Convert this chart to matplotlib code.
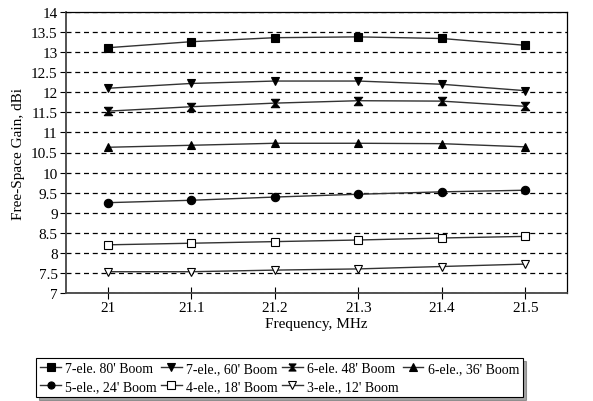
import matplotlib.pyplot as plt
import numpy as np

plt.rcParams['font.family'] = ['Liberation Serif', 'DejaVu Serif']

freq = [21.0, 21.1, 21.2, 21.3, 21.4, 21.5]

gain_7el_80 = [13.11, 13.26, 13.36, 13.38, 13.34, 13.17]
gain_7el_60 = [12.10, 12.22, 12.28, 12.28, 12.20, 12.04]
gain_6el_48 = [11.53, 11.64, 11.73, 11.79, 11.78, 11.65]
gain_6el_36 = [10.63, 10.68, 10.73, 10.73, 10.72, 10.64]
gain_5el_24 = [9.25, 9.31, 9.39, 9.46, 9.52, 9.56]
gain_4el_18 = [8.20, 8.24, 8.28, 8.32, 8.37, 8.41]
gain_3el_12 = [7.53, 7.53, 7.57, 7.60, 7.66, 7.72]

labels = ["7-ele. 80' Boom", "7-ele., 60' Boom", "6-ele. 48' Boom", "6-ele., 36' Boom",
          "5-ele., 24' Boom", "4-ele., 18' Boom", "3-ele., 12' Boom"]
series = [gain_7el_80, gain_7el_60, gain_6el_48, gain_6el_36,
          gain_5el_24, gain_4el_18, gain_3el_12]

# hourglass marker: two triangles tip to tip
hourglass = [(-1, 1), (1, 1), (0.15, 0), (1, -1), (-1, -1), (-0.15, 0), (-1, 1)]
markers = ['s', 'v', hourglass, '^', 'o', 's', 'v']
filled = [True, True, True, True, True, False, False]

fig = plt.figure(figsize=(5.93, 4.02), dpi=100)
ax = fig.add_axes([66 / 593, 1 - 294 / 402, 501 / 593, 281 / 402])

handles = []
for y, lab, m, f in zip(series, labels, markers, filled):
    h, = ax.plot(freq, y, color='#333333', linewidth=1.0, marker=m, markersize=6,
                 markerfacecolor='black' if f else 'white', markeredgecolor='black',
                 markeredgewidth=0.8, label=lab)
    handles.append(h)

ax.set_xlim(20.95, 21.55)
ax.set_ylim(7, 14)
ax.set_xticks(freq)
ax.set_xticklabels(['21', '21.1', '21.2', '21.3', '21.4', '21.5'])
ax.set_yticks(np.arange(7, 14.01, 0.5))
ax.set_yticklabels(['7', '7.5', '8', '8.5', '9', '9.5', '10', '10.5', '11',
                    '11.5', '12', '12.5', '13', '13.5', '14'])
ax.yaxis.grid(True, linestyle=(0, (4, 3)), color='black', linewidth=0.9)
ax.set_axisbelow(True)
ax.tick_params(axis='x', direction='inout', length=8, labelsize=11, pad=2)
ax.tick_params(axis='y', direction='out', length=4, labelsize=11, pad=2)
for s in ['left', 'bottom']:
    ax.spines[s].set_color('#444444')
    ax.spines[s].set_linewidth(1.3)
for s in ['top', 'right']:
    ax.spines[s].set_color('black')
    ax.spines[s].set_linewidth(0.9)

ax.set_xlabel('Frequency, MHz', fontsize=11, labelpad=2)
ax.set_ylabel('Free-Space Gain, dBi', fontsize=11, labelpad=4)

# legend fills column by column, so reorder to read row by row
order = [0, 4, 1, 5, 2, 6, 3]
leg = fig.legend([handles[i] for i in order], [labels[i] for i in order],
                 loc='lower left', bbox_to_anchor=(36 / 593, 1 - 398 / 402), ncol=4,
                 fontsize=10, frameon=True, fancybox=False, shadow=True,
                 handlelength=1.5, handletextpad=0.3, columnspacing=0.3,
                 markerscale=0.85, borderpad=0.3, labelspacing=0.35, borderaxespad=0)
leg.get_frame().set_edgecolor('black')
leg.get_frame().set_linewidth(0.8)

fig.savefig('out.png', dpi=100)
